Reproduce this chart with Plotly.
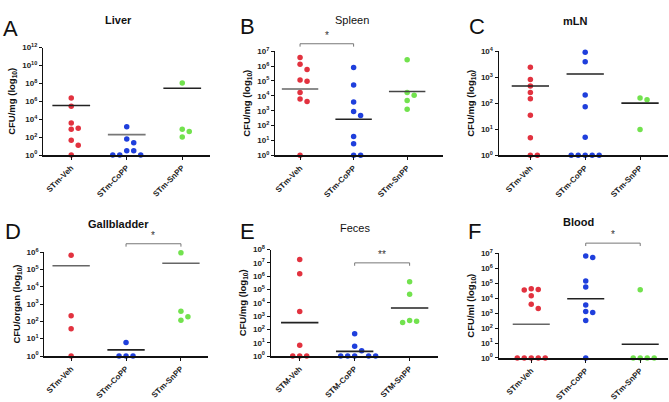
import numpy as np
import plotly.graph_objects as go

W, H = 669, 402
GROUPS = ["STm-Veh", "STm-CoPP", "STm-SnPP"]
GROUPS_E = ["STM-Veh", "STM-CoPP", "STM-SnPP"]
COLORS = ["#e2323f", "#1f3fdc", "#72e24e"]

# values read as log10(CFU)
liver_veh = [6.38, 5.45, 3.58, 3.0, 2.87, 1.65, 1.08, 0]
liver_copp = [3.15, 1.79, 1.36, 0.47, 0.47, 0, 0, 0]
liver_snpp = [8.06, 2.87, 2.62, 2.0]

spleen_veh = [6.57, 6.13, 5.77, 5.07, 4.98, 4.23, 3.79, 3.62, 0]
spleen_copp = [5.9, 4.72, 3.58, 2.95, 2.67, 1.26, 0.78, 0, 0]
spleen_snpp = [6.42, 4.23, 4.03, 3.68, 3.1]

mln_veh = [3.38, 2.91, 2.66, 2.41, 2.17, 1.54, 0.67, 0, 0]
mln_copp = [3.96, 3.59, 2.32, 1.87, 0.69, 0, 0, 0, 0, 0]
mln_snpp = [2.2, 2.13, 0.99]

gall_veh = [5.81, 2.33, 1.58, 0]
gall_copp = [0.78, 0, 0, 0]
gall_snpp = [5.96, 2.59, 2.27, 2.07]

feces_veh = [7.25, 6.18, 3.35, 0.8, 0, 0, 0]
feces_copp = [1.67, 0.73, 0.39, 0, 0, 0, 0, 0]
feces_snpp = [5.58, 4.65, 2.67, 2.62, 2.52]

blood_veh = [4.64, 4.58, 4.55, 4.17, 3.59, 3.31, 0, 0, 0, 0, 0]
blood_copp = [6.83, 6.72, 5.16, 4.75, 3.54, 3.11, 3.05, 2.5, 0]
blood_snpp = [4.56, 0, 0, 0, 0]

# layout of panels (pixel boxes of the plot areas)
PANELS = [
    dict(letter="A", title="Liver", bold=True, ylabel="CFU/mg (log<sub>10</sub>)",
         data=[liver_veh, liver_copp, liver_snpp], mean="arith", ymax=12, dtick=2,
         box=(42, 209.3, 43, 154), xr=(-0.51, 2.5), labels=GROUPS,
         letter_xy=(10, 23), title_xy=(118, 14),
         mean_col=["#222", "#777", "#222"], brackets=[]),
    dict(letter="B", title="Spleen", bold=False, ylabel="CFU/mg (log<sub>10</sub>)",
         data=[spleen_veh, spleen_copp, spleen_snpp], mean="geo", ymax=7, dtick=1,
         box=(274.3, 442.7, 46.7, 154.3), xr=(-0.47, 2.67), labels=GROUPS,
         letter_xy=(247, 21), title_xy=(352, 14),
         mean_col=["#666", "#222", "#444"], brackets=[(0, 1, 7.5, "*")]),
    dict(letter="C", title="mLN", bold=True, ylabel="CFU/mg (log<sub>10</sub>)",
         data=[mln_veh, mln_copp, mln_snpp], mean="arith", ymax=4, dtick=1,
         box=(498.3, 668, 46.7, 154.3), xr=(-0.58, 2.51), labels=GROUPS,
         letter_xy=(477, 21), title_xy=(575, 16),
         mean_col=["#222", "#222", "#222"], brackets=[]),
    dict(letter="D", title="Gallbladder", bold=True, ylabel="CFU/organ (log<sub>10</sub>)",
         data=[gall_veh, gall_copp, gall_snpp], mean="arith", ymax=6, dtick=1,
         box=(43.3, 207.7, 254.3, 361.7), xr=(-0.49, 2.5), labels=GROUPS,
         letter_xy=(12, 233), title_xy=(118, 225),
         mean_col=["#666", "#222", "#666"], brackets=[(1, 2, 6.48, "*")]),
    dict(letter="E", title="Feces", bold=False, ylabel="CFU/mg (log<sub>10</sub>)",
         data=[feces_veh, feces_copp, feces_snpp], mean="geo", ymax=8, dtick=1,
         box=(270, 437.3, 251.7, 361.7), xr=(-0.53, 2.51), labels=GROUPS_E,
         letter_xy=(247, 233), title_xy=(355, 229),
         mean_col=["#222", "#222", "#222"], brackets=[(1, 2, 7.0, "**")]),
    dict(letter="F", title="Blood", bold=True, ylabel="CFU/ml (log<sub>10</sub>)",
         data=[blood_veh, blood_copp, blood_snpp], mean="geo", ymax=7, dtick=1,
         box=(498.3, 668, 255.7, 363.7), xr=(-0.6, 2.51), labels=GROUPS,
         letter_xy=(474, 233), title_xy=(578, 223),
         mean_col=["#666", "#222", "#222"], brackets=[(1, 2, 7.69, "*")]),
]

FONT = "Liberation Sans, Arial, sans-serif"


def swarm(vals, ppx, ppy, step=7.0, mind=6.0):
    placed, offs = [], []
    cands = [0]
    for i in range(1, 12):
        cands += [i, -i]
    for v in vals:
        y = v * ppy
        x = 0.0
        for c in cands:
            x = c * step
            if all((x - px) ** 2 + (y - py) ** 2 >= mind ** 2 for px, py in placed):
                break
        placed.append((x, y))
        offs.append(x / ppx)
    return offs


fig = go.Figure()
shapes, annotations = [], []

for i, p in enumerate(PANELS):
    n = "" if i == 0 else str(i + 1)
    xl, xr_, yt, yb = p["box"]
    x0, x1 = p["xr"]
    ymax = p["ymax"]
    ppx = (xr_ - xl) / (x1 - x0)
    ppy = (yb - yt) / ymax

    def to_paper(x, y):
        px = xl + (x - x0) * ppx
        py = yb - y * ppy
        return px / W, 1 - py / H

    for g, vals in enumerate(p["data"]):
        offs = swarm(vals, ppx, ppy)
        fig.add_trace(go.Scatter(
            x=[g + o for o in offs], y=vals, mode="markers",
            marker=dict(color=COLORS[g], size=5.5, line=dict(width=0)),
            cliponaxis=False, showlegend=False, xaxis="x" + n, yaxis="y" + n))
        arr = np.array(vals, dtype=float)
        if p["mean"] == "arith":
            m = np.log10(np.mean(10 ** arr))
        else:
            m = np.mean(arr)
        fig.add_trace(go.Scatter(
            x=[g - 0.34, g + 0.34], y=[m, m], mode="lines",
            line=dict(color=p["mean_col"][g], width=1.6),
            cliponaxis=False, showlegend=False, xaxis="x" + n, yaxis="y" + n))

    for (a, b, yv, txt) in p["brackets"]:
        ax_, ay_ = to_paper(a, yv)
        bx_, _ = to_paper(b, yv)
        tick = 3.0 / H
        col = "#777"
        shapes.append(dict(type="line", xref="paper", yref="paper", x0=ax_, x1=bx_,
                           y0=ay_, y1=ay_, line=dict(color=col, width=1)))
        for xx in (ax_, bx_):
            shapes.append(dict(type="line", xref="paper", yref="paper", x0=xx, x1=xx,
                               y0=ay_, y1=ay_ - tick, line=dict(color=col, width=1)))
        annotations.append(dict(x=(ax_ + bx_) / 2, y=ay_ + 1.0 / H, xref="paper", yref="paper",
                                text=txt, showarrow=False, xanchor="center", yanchor="bottom",
                                font=dict(family=FONT, size=10, color="#333")))

    lx, ly = p["letter_xy"]
    annotations.append(dict(x=lx / W, y=1 - ly / H, xref="paper", yref="paper",
                            text=p["letter"], showarrow=False, xanchor="center", yanchor="middle",
                            font=dict(family=FONT, size=22, color="#111")))
    tx, ty = p["title_xy"]
    annotations.append(dict(x=tx / W, y=1 - ty / H, xref="paper", yref="paper",
                            text=p["title"], showarrow=False, xanchor="center", yanchor="middle",
                            font=dict(family=FONT, size=11, color="#111",
                                      weight="bold" if p["bold"] else "normal")))

    tickvals = list(range(0, ymax + 1, p["dtick"]))
    fig.layout["xaxis" + n] = dict(
        domain=[xl / W, xr_ / W], range=[x0, x1], anchor="y" + n,
        tickvals=[0, 1, 2], ticktext=p["labels"], tickangle=-45,
        showline=True, linecolor="#111", linewidth=2, ticks="outside", ticklen=3,
        tickcolor="#111", tickwidth=1, showgrid=False, zeroline=False, fixedrange=True,
        tickfont=dict(family=FONT, size=8, color="#222", weight="bold"))
    fig.layout["yaxis" + n] = dict(
        domain=[1 - yb / H, 1 - yt / H], range=[0, ymax], anchor="x" + n,
        tickvals=tickvals, ticktext=["10<sup>%d</sup>" % t for t in tickvals],
        showline=True, linecolor="#111", linewidth=1, ticks="outside", ticklen=3,
        tickcolor="#111", showgrid=False, zeroline=False, fixedrange=True,
        tickfont=dict(family=FONT, size=8, color="#222", weight="bold"),
        title=dict(text=p["ylabel"], standoff=4,
                   font=dict(family=FONT, size=9.5, color="#111", weight="bold")))

fig.update_layout(width=W, height=H, margin=dict(l=0, r=0, t=0, b=0),
                  paper_bgcolor="white", plot_bgcolor="white",
                  shapes=shapes, annotations=annotations, showlegend=False)

fig.write_html("out.html")
